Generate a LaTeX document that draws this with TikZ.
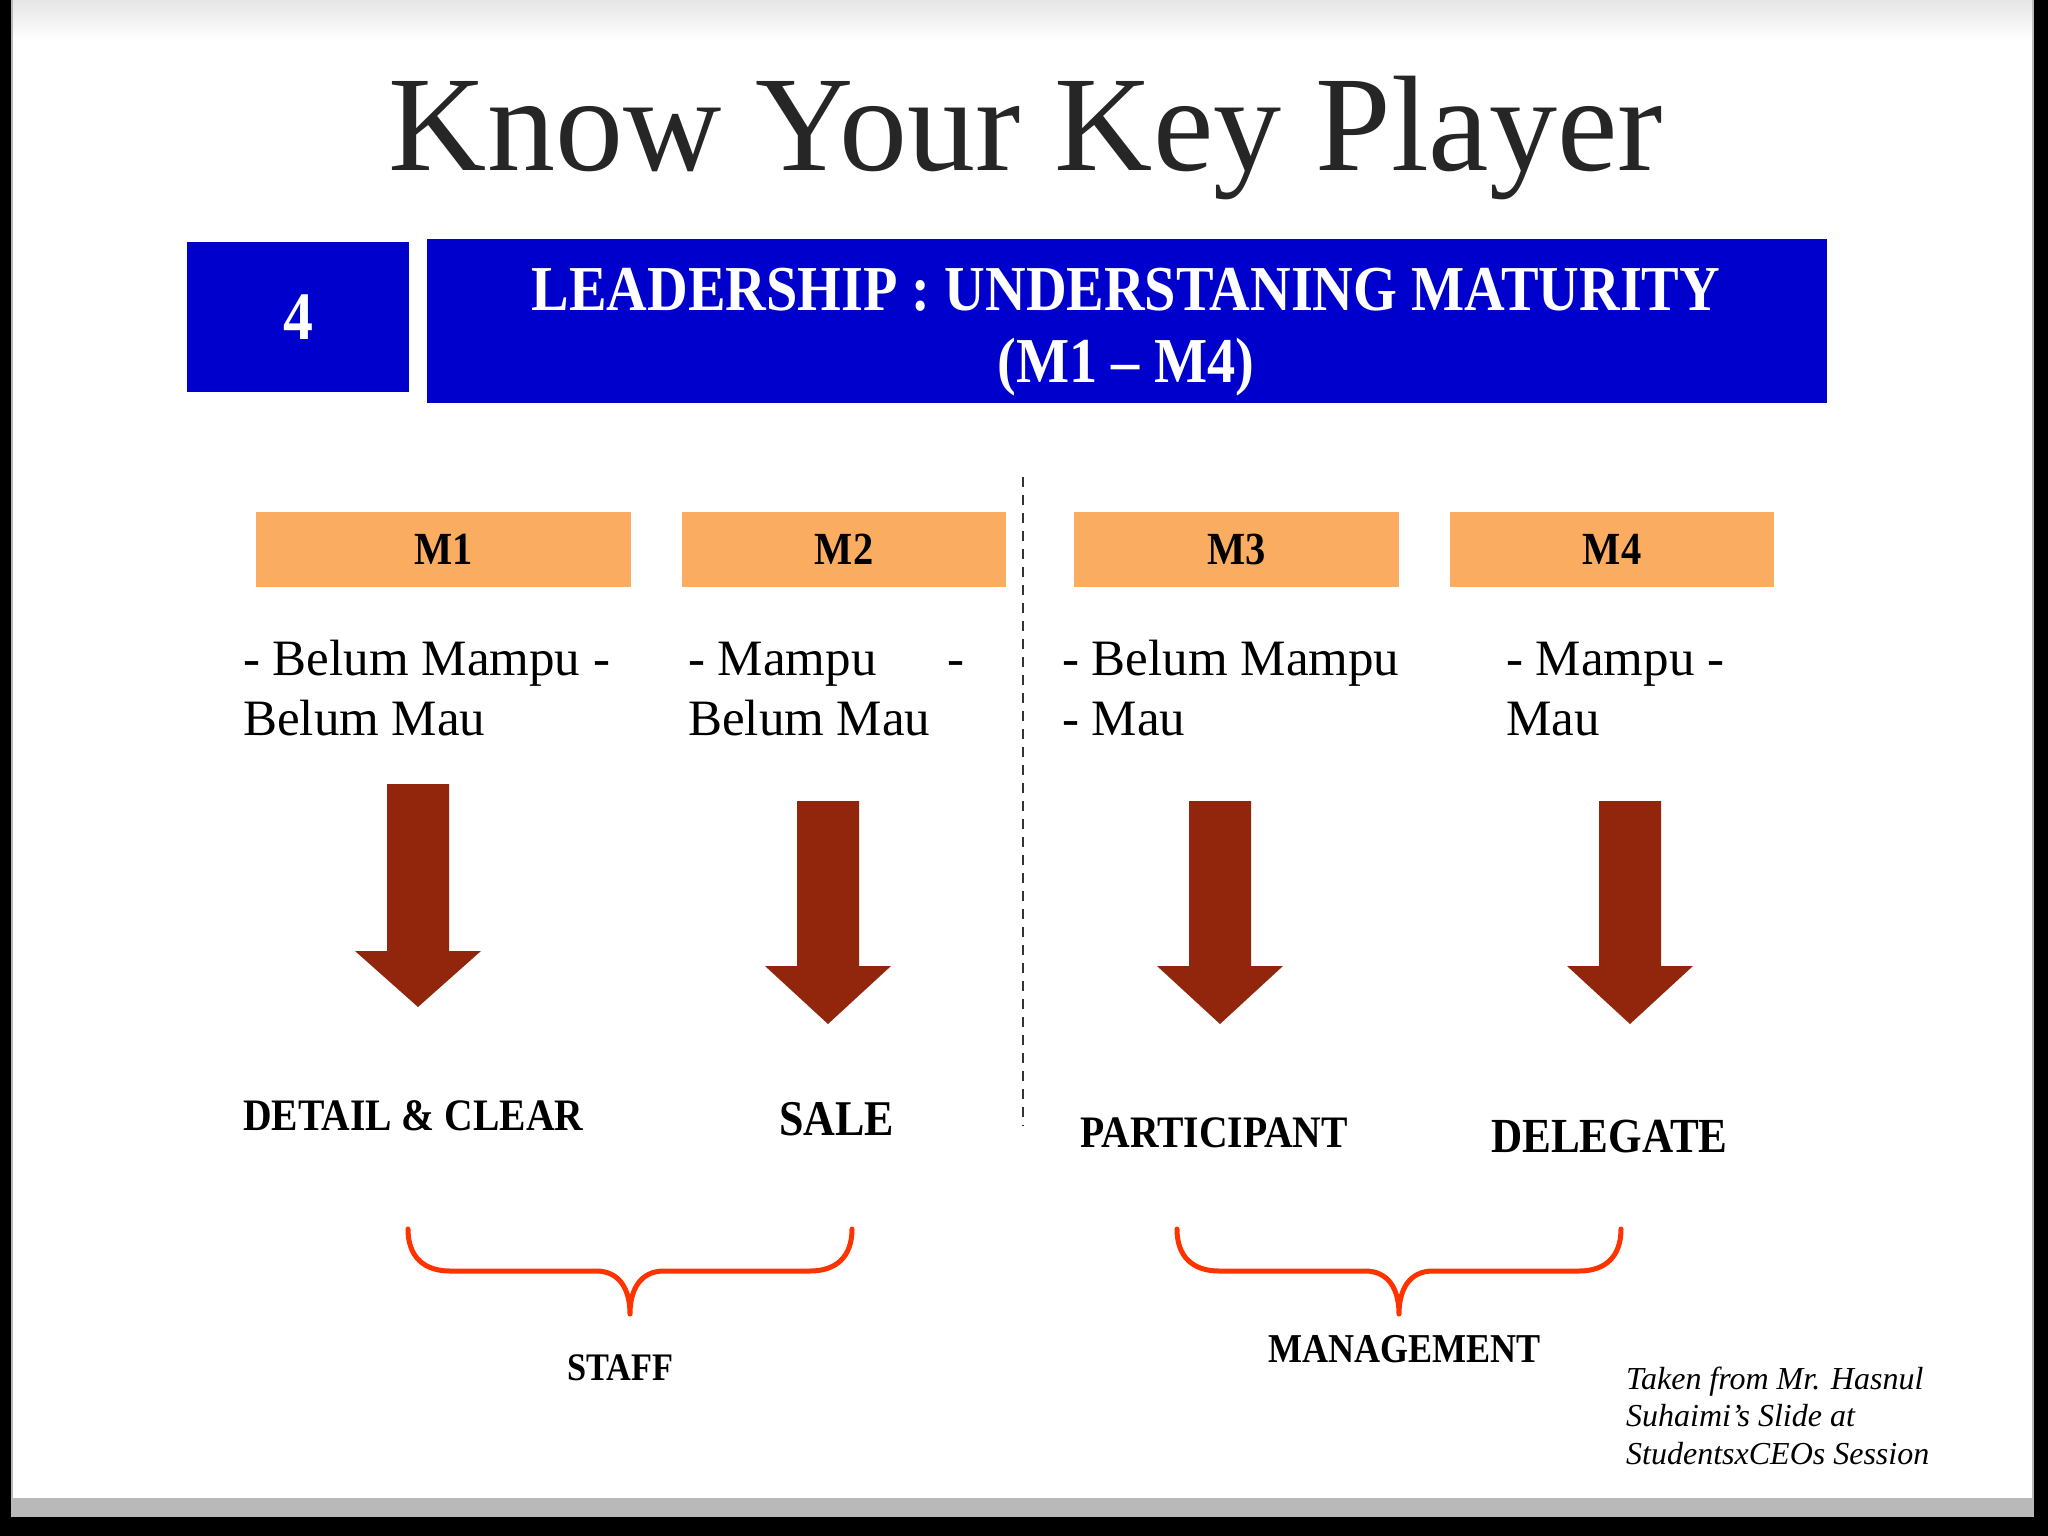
\documentclass[tikz,border=0pt]{standalone}
\usepackage{fontspec}
\setmainfont{Liberation Serif}
\newfontfamily\slidebold[FakeStretch=0.88]{Liberation Serif}
\usetikzlibrary{calc,positioning}
\definecolor{hdrblue}{RGB}{0,0,204}
\definecolor{mbox}{RGB}{250,173,96}
\definecolor{arrowred}{RGB}{146,38,12}
\definecolor{braceorange}{RGB}{255,51,0}
\definecolor{titlegray}{RGB}{38,38,38}

\tikzset{
  hdr/.style={fill=hdrblue, text=white, inner sep=0pt},
  hdrtext/.style={anchor=base, text=white, inner sep=0pt, font=\slidebold\bfseries\fontsize{64}{64}\selectfont},
  mlabel/.style={fill=mbox, minimum width=#1, minimum height=75pt, inner sep=0pt, anchor=north west,
    font=\slidebold\bfseries\fontsize{46}{46}\selectfont},
  desc/.style={anchor=base west, align=left, inner sep=0pt, font=\fontsize{51}{60}\selectfont},
  result/.style={anchor=base west, inner sep=0pt, font=\slidebold\bfseries\fontsize{#1}{#1}\selectfont},
  brace/.style={draw=braceorange, line width=5pt, line cap=round, line join=round},
  bigarrow/.style={fill=arrowred}
}

\begin{document}
\begin{tikzpicture}[x=1pt,y=-1pt]
  \useasboundingbox (0,0) rectangle (2048,1536);
  % slide frame
  \fill[black] (0,0) rectangle (2048,1536);
  \fill[gray!55] (11,0) rectangle (2034,1517);
  \fill[white] (13,0) rectangle (2032,1498);
  \shade[top color=gray!20, bottom color=white] (13,0) rectangle (2032,40);

  \node[anchor=base, text=titlegray, inner sep=0pt, font=\fontsize{136}{136}\selectfont] (title) at (1026,170) {Know Your Key Player};

  \node[hdr, minimum width=222pt, minimum height=150pt, anchor=north west,
    font=\slidebold\bfseries\fontsize{68}{68}\selectfont] (num) at (187,242) {4};
  \node[hdr, minimum width=1400pt, minimum height=164pt, anchor=north west] (lead) at (427,239) {};
  \node[hdrtext] (lead1) at (1126,310) {LEADERSHIP : UNDERSTANING MATURITY};
  \node[hdrtext] (lead2) at (1126,382) {(M1 – M4)};

  \foreach \nm/\xa/\w in {M1/256/375, M2/682/324, M3/1074/325, M4/1450/324}
    \node[mlabel=\w pt] (\nm) at (\xa,512) {\nm};

  \draw[black!80, line width=2.5pt, dash pattern=on 10pt off 8pt] (1023,477) -- (1023,1126);

  % base of a two-line node = second line
  \node[desc] (d1) at (243,735) {- Belum Mampu -\\Belum Mau};
  \node[desc] (d2) at (688,735) {\makebox[276pt][l]{- Mampu\hfill-}\\Belum Mau};
  \node[desc] (d3) at (1062,735) {- Belum Mampu\\- Mau};
  \node[desc] (d4) at (1506,735) {- Mampu -\\Mau};

  \foreach \cx/\ya/\yb/\yc in {418/784/951/1007, 828/801/966/1024, 1220/801/966/1024, 1630/801/966/1024}
    \fill[bigarrow] (\cx-31,\ya) -- (\cx+31,\ya) -- (\cx+31,\yb) -- (\cx+63,\yb)
      -- (\cx,\yc) -- (\cx-63,\yb) -- (\cx-31,\yb) -- cycle;

  \node[result=45] (detail) at (243,1130) {DETAIL \& CLEAR};
  \node[result=50] (sale) at (779,1135) {SALE};
  \node[result=45] (participant) at (1080,1147) {PARTICIPANT};
  \node[result=49] (delegate) at (1491,1152) {DELEGATE};

  \foreach \dx in {0,769}
    \draw[brace, xshift=\dx] (408,1229) .. controls (408,1257) and (424,1271) .. (450,1271) -- (596,1271)
      .. controls (620,1271) and (630,1290) .. (630,1314) .. controls (630,1290) and (640,1271) .. (664,1271)
      -- (810,1271) .. controls (836,1271) and (852,1257) .. (852,1229);

  \node[result=39] (staff) at (567,1380) {STAFF};
  \node[result=41] (mgmt) at (1268,1362) {MANAGEMENT};

  \node[anchor=base west, align=left, inner sep=0pt, font=\itshape\fontsize{32}{37.5}\selectfont] (credit)
    at (1626,1464) {Taken from Mr. Hasnul\\Suhaimi’s Slide at\\StudentsxCEOs Session};
\end{tikzpicture}
\end{document}
